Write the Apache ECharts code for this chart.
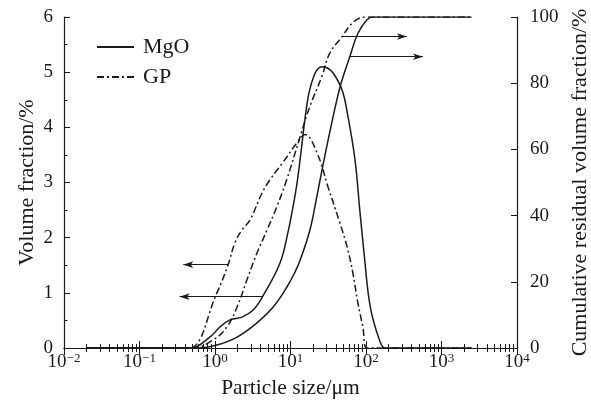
<!DOCTYPE html>
<html><head><meta charset="utf-8">
<script src="https://cdn.jsdelivr.net/npm/echarts@6/dist/echarts.min.js"></script>
<style>html,body{margin:0;padding:0;background:#fff}#c{width:591px;height:406px}</style>
</head><body><div id="c"></div>
<script>
// Particle size (µm) and volume fraction (%) for MgO
const mgoVolSize = [0.02, 0.3, 0.47, 0.86, 1.16, 1.58, 2.28, 3.2, 4.3, 7.26, 9.27, 10.8, 12.2, 13.8, 15.6, 17.6, 20.5, 23.1, 26.1, 30.4, 36.5, 48.1, 57.8, 71.5, 83.4, 97.1, 103, 110, 118, 128, 142, 163, 185, 300, 2500];
const mgoVol     = [0, 0, 0, 0.2, 0.38, 0.51, 0.56, 0.69, 0.94, 1.54, 2.10, 2.56, 2.99, 3.56, 4.17, 4.63, 4.94, 5.06, 5.10, 5.08, 4.99, 4.68, 4.19, 3.41, 2.45, 1.54, 1.18, 0.87, 0.64, 0.45, 0.25, 0.04, 0, 0, 0];
// GP volume fraction
const gpVolSize = [0.02, 0.3, 0.46, 1.06, 1.49, 1.84, 2.28, 2.91, 4.2, 5.35, 7.9, 12.2, 15.6, 22.4, 31.4, 45, 56, 67, 78, 91, 103, 160, 2500];
const gpVol     = [0, 0, 0, 1.0, 1.51, 1.91, 2.14, 2.32, 2.81, 3.05, 3.36, 3.72, 3.87, 3.54, 2.92, 2.27, 1.84, 1.36, 0.82, 0.38, 0, 0, 0];
// MgO cumulative (%)
const mgoCumSize = [0.02, 0.3, 0.6, 1.06, 1.96, 3.6, 5.9, 9, 11.5, 13.4, 18, 22, 26, 33, 45.5, 61, 78, 103, 125, 200, 2500];
const mgoCum     = [0, 0, 0, 0.9, 3.3, 7.6, 12.4, 18.5, 23, 26.5, 35.5, 45, 53.5, 65, 79, 88, 95, 99.2, 100, 100, 100];
// GP cumulative (%)
const gpCumSize = [0.02, 0.3, 0.5, 0.94, 1.44, 1.96, 2.65, 3.6, 4.9, 6.6, 8.9, 13.4, 18, 26, 33, 48, 67, 97, 150, 2500];
const gpCum     = [0, 0, 0, 2.4, 6.4, 12.4, 20.6, 28.7, 35.7, 42.7, 50.8, 63.8, 72.9, 82, 89, 94, 98.3, 100, 100, 100];
// Arrows: [from x, to x, y]
const arrowGpVol  = [1.49, 0.38, 1.51];
const arrowMgoVol = [4.3, 0.34, 0.93];
const arrowGpCum  = [48, 348, 94.1];
const arrowMgoCum = [61, 568, 88];

const FONT = 'Liberation Serif';
const C = '#1a1a1a';
function pairs(xs, ys) { return xs.map((x, i) => [x, ys[i]]); }
function supLabel(v) {
  const e = Math.round(Math.log10(v));
  return '{b|10}{s|' + String(e).replace('-', '\u2212') + '}';
}
function arrow(a) {
  return {
    silent: true, animation: false,
    symbol: ['none', 'arrow'], symbolSize: [5, 10],
    label: { show: false },
    lineStyle: { color: C, width: 1, type: 'solid' },
    emphasis: { disabled: true },
    data: [[{ coord: [a[0], a[2]] }, { coord: [a[1], a[2]] }]]
  };
}
const dashDot = [7, 3, 2, 3];
const xBase = {
  type: 'log', logBase: 10, min: 0.01, max: 10000, interval: 1,
  axisLine: { lineStyle: { color: C, width: 1.2 } },
  axisTick: { inside: true, length: 7, lineStyle: { color: C } },
  minorTick: { show: true, splitNumber: 9, length: 4, lineStyle: { color: C } },
  splitLine: { show: false }, minorSplitLine: { show: false }
};
function lineSeries(name, yIdx, xs, ys, type, arr) {
  return {
    name: name, type: 'line', xAxisIndex: 0, yAxisIndex: yIdx, data: pairs(xs, ys),
    showSymbol: false, symbol: 'none', smooth: 0.4, clip: true,
    lineStyle: { color: C, width: 1.5, type: type }, itemStyle: { color: C },
    markLine: arrow(arr)
  };
}
const chart = echarts.init(document.getElementById('c'));
chart.setOption({
  animation: false,
  backgroundColor: '#fff',
  textStyle: { fontFamily: FONT, color: C },
  grid: { left: 64, right: 74, top: 17, bottom: 58, containLabel: false, outerBoundsMode: 'none' },
  legend: {
    data: ['MgO', 'GP'], orient: 'vertical', left: 96, top: 36, padding: 0,
    itemWidth: 37, itemHeight: 14, itemGap: 8,
    itemStyle: { opacity: 0 },
    textStyle: { fontFamily: FONT, fontSize: 22, color: C, lineHeight: 22, padding: [0, 0, 0, 4] }
  },
  xAxis: [
    Object.assign({}, xBase, {
      position: 'bottom',
      name: 'Particle size/\u03bcm', nameLocation: 'middle', nameGap: 24,
      nameTextStyle: { fontFamily: FONT, fontSize: 21.5, color: C },
      axisLabel: {
        margin: 4, color: C, formatter: supLabel,
        rich: {
          b: { fontFamily: FONT, fontSize: 19, color: C, lineHeight: 21 },
          s: { fontFamily: FONT, fontSize: 13, color: C, verticalAlign: 'top', lineHeight: 13 }
        }
      }
    }),
    Object.assign({}, xBase, { position: 'top', axisLabel: { show: false } })
  ],
  yAxis: [
    {
      type: 'value', min: 0, max: 6, interval: 1, position: 'left',
      name: 'Volume fraction/%', nameLocation: 'middle', nameGap: 26, nameMoveOverlap: false,
      nameTextStyle: { fontFamily: FONT, fontSize: 22, color: C },
      axisLine: { show: true, lineStyle: { color: C, width: 1.2 } },
      axisTick: { show: true, inside: true, length: 6, lineStyle: { color: C } },
      minorTick: { show: true, splitNumber: 2, length: 3.5, lineStyle: { color: C } },
      axisLabel: { margin: 11, fontFamily: FONT, fontSize: 19, color: C },
      splitLine: { show: false }
    },
    {
      type: 'value', min: 0, max: 100, interval: 20, position: 'right',
      name: 'Cumulative residual volume fraction/%', nameLocation: 'middle', nameGap: 52,
      nameTextStyle: { fontFamily: FONT, fontSize: 22, color: C },
      axisLine: { show: true, lineStyle: { color: C, width: 1.2 } },
      axisTick: { show: true, inside: true, length: 6, lineStyle: { color: C } },
      axisLabel: { margin: 13, fontFamily: FONT, fontSize: 19, color: C },
      splitLine: { show: false }
    }
  ],
  series: [
    lineSeries('MgO', 0, mgoVolSize, mgoVol, 'solid', arrowMgoVol),
    lineSeries('GP', 0, gpVolSize, gpVol, dashDot, arrowGpVol),
    lineSeries('MgO cumulative', 1, mgoCumSize, mgoCum, 'solid', arrowMgoCum),
    lineSeries('GP cumulative', 1, gpCumSize, gpCum, dashDot, arrowGpCum)
  ]
});
</script></body></html>
